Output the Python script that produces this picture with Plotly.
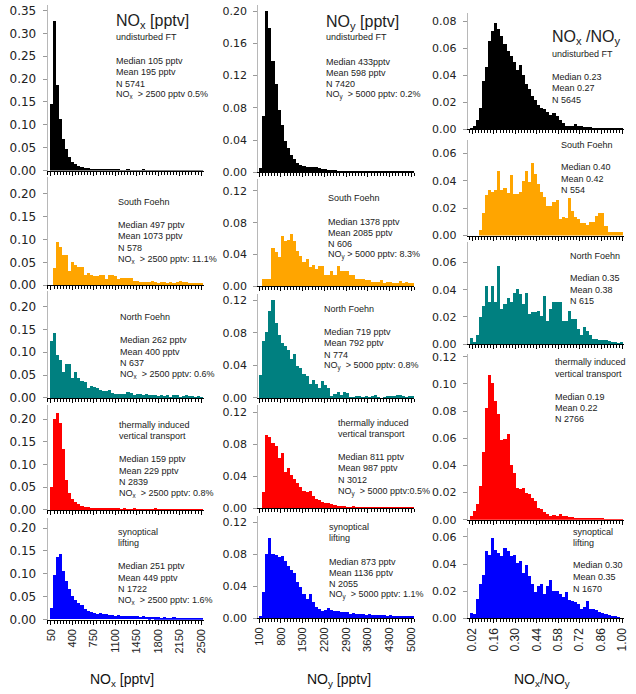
import plotly.graph_objects as go

W, H = 636, 694

# ---------------- data (relative frequencies) ----------------
nox_bins = list(range(50, 2501, 50))                 # NOx bin centres [pptv]
noy_bins = list(range(150, 5051, 100))               # NOy bin centres [pptv]
ratio_bins = [round(0.01 + 0.02 * i, 2) for i in range(50)]  # NOx/NOy bin centres

nox_ft = [0.145, 0.327, 0.187, 0.1135, 0.068, 0.047, 0.029, 0.019, 0.014, 0.009,
          0.007, 0.006, 0.005, 0.004, 0.004, 0.003, 0.003, 0.002, 0.003, 0.002,
          0.002, 0.002, 0.002, 0.001, 0.001, 0.002, 0.001, 0.001, 0.001, 0.001,
          0.002, 0.001, 0.001, 0.001, 0.001, 0.001, 0.001, 0.001, 0.0005, 0.001,
          0.0005, 0.0005, 0.0005, 0.0005, 0.0005, 0.0005, 0.0005, 0.0005, 0.0005, 0.0005]
nox_sf = [0.0, 0.036, 0.094, 0.083, 0.066, 0.065, 0.031, 0.049, 0.044, 0.039,
          0.038, 0.022, 0.026, 0.021, 0.018, 0.018, 0.021, 0.022, 0.0136, 0.021,
          0.021, 0.019, 0.0136, 0.015, 0.014, 0.014, 0.015, 0.008, 0.008, 0.0064,
          0.006, 0.007, 0.005, 0.0086, 0.005, 0.0043, 0.006, 0.005, 0.004, 0.005,
          0.004, 0.006, 0.008, 0.006, 0.005, 0.003, 0.003, 0.0025, 0.002, 0.002]
nox_nf = [0.124, 0.142, 0.095, 0.084, 0.057, 0.074, 0.074, 0.044, 0.058, 0.044,
          0.037, 0.036, 0.022, 0.026, 0.024, 0.022, 0.017, 0.015, 0.015, 0.017,
          0.012, 0.008, 0.01, 0.008, 0.01, 0.014, 0.012, 0.007, 0.01, 0.008,
          0.006, 0.008, 0.007, 0.006, 0.007, 0.005, 0.006, 0.004, 0.006, 0.003,
          0.007, 0.006, 0.003, 0.005, 0.006, 0.004, 0.005, 0.003, 0.004, 0.002]
nox_th = [0.051, 0.2, 0.214, 0.192, 0.133, 0.066, 0.038, 0.024, 0.017, 0.013,
          0.009, 0.007, 0.006, 0.004, 0.004, 0.003, 0.003, 0.002, 0.003, 0.003,
          0.002, 0.002, 0.002, 0.001, 0.002, 0.001, 0.001, 0.002, 0.001, 0.001,
          0.001, 0.001, 0.001, 0.001, 0.002, 0.001, 0.001, 0.001, 0.001, 0.001,
          0.001, 0.0005, 0.0005, 0.001, 0.0005, 0.0005, 0.0005, 0.0005, 0.0005, 0.0005]
nox_sl = [0.024, 0.096, 0.136, 0.142, 0.105, 0.084, 0.066, 0.05, 0.042, 0.035,
          0.03, 0.023, 0.018, 0.016, 0.014, 0.012, 0.0135, 0.011, 0.012, 0.009,
          0.01, 0.008, 0.009, 0.007, 0.008, 0.006, 0.007, 0.006, 0.006, 0.005,
          0.006, 0.005, 0.004, 0.005, 0.004, 0.004, 0.003, 0.004, 0.003, 0.003,
          0.004, 0.003, 0.003, 0.003, 0.002, 0.003, 0.003, 0.002, 0.002, 0.003]

noy_ft = [0.005, 0.07, 0.2, 0.179, 0.138, 0.11, 0.077, 0.059, 0.039, 0.03,
          0.022, 0.016, 0.012, 0.009, 0.008, 0.007, 0.007, 0.007, 0.006, 0.005,
          0.004, 0.004, 0.003, 0.003, 0.003, 0.002, 0.002, 0.002, 0.002, 0.0015,
          0.0015, 0.0015, 0.001, 0.001, 0.001, 0.001, 0.001, 0.001, 0.001, 0.001,
          0.0008, 0.0008, 0.0008, 0.0008, 0.0008, 0.0008, 0.0008, 0.0008, 0.0008, 0.0008]
noy_sf = [0.0, 0.008, 0.008, 0.008, 0.048, 0.042, 0.036, 0.063, 0.057, 0.058,
          0.065, 0.056, 0.044, 0.037, 0.030, 0.034, 0.024, 0.026, 0.021, 0.025,
          0.025, 0.013, 0.013, 0.019, 0.013, 0.025, 0.019, 0.019, 0.018, 0.014,
          0.013, 0.009, 0.009, 0.008, 0.007, 0.007, 0.005, 0.005, 0.005, 0.007,
          0.003, 0.005, 0.005, 0.004, 0.004, 0.006, 0.003, 0.005, 0.003, 0.003]
noy_nf = [0.029, 0.07, 0.082, 0.107, 0.121, 0.093, 0.078, 0.0675, 0.064, 0.059,
          0.048, 0.054, 0.04, 0.037, 0.03, 0.027, 0.018, 0.022, 0.018, 0.012,
          0.021, 0.016, 0.012, 0.003, 0.005, 0.007, 0.004, 0.007, 0.006, 0.002,
          0.002, 0.003, 0.003, 0.002, 0.003, 0.002, 0.003, 0.004, 0.002, 0.0,
          0.002, 0.003, 0.003, 0.003, 0.004, 0.004, 0.003, 0.002, 0.003, 0.003]
noy_th = [0.0, 0.0196, 0.091, 0.089, 0.081, 0.077, 0.062, 0.069, 0.045, 0.05,
          0.041, 0.036, 0.032, 0.026, 0.022, 0.0196, 0.021, 0.0155, 0.011, 0.01,
          0.008, 0.007, 0.006, 0.005, 0.004, 0.003, 0.003, 0.003, 0.002, 0.002,
          0.003, 0.002, 0.002, 0.002, 0.002, 0.001, 0.002, 0.001, 0.001, 0.002,
          0.001, 0.001, 0.001, 0.001, 0.001, 0.001, 0.001, 0.001, 0.001, 0.001]
noy_sl = [0.002, 0.032, 0.079, 0.099, 0.08, 0.078, 0.076, 0.077, 0.071, 0.065,
          0.06, 0.056, 0.044, 0.038, 0.03, 0.023, 0.03, 0.019, 0.013, 0.011,
          0.008, 0.010, 0.0115, 0.01, 0.008, 0.008, 0.007, 0.007, 0.0066, 0.005,
          0.0055, 0.004, 0.0045, 0.004, 0.0033, 0.004, 0.003, 0.0035, 0.003, 0.0033,
          0.003, 0.0025, 0.003, 0.0025, 0.002, 0.0025, 0.002, 0.002, 0.0016, 0.0016]

rat_ft = [0.001, 0.003, 0.007, 0.016, 0.036, 0.0465, 0.0655, 0.073, 0.079, 0.074,
          0.069, 0.063, 0.058, 0.054, 0.05, 0.044, 0.048, 0.04, 0.034, 0.03,
          0.025, 0.022, 0.018, 0.016, 0.015, 0.013, 0.011, 0.012, 0.0097, 0.0073,
          0.005, 0.003, 0.003, 0.003, 0.004, 0.003, 0.003, 0.002, 0.0017, 0.0017,
          0.0012, 0.0007, 0.0007, 0.0005, 0.0005, 0.0005, 0.0005, 0.0005, 0.0005, 0.0005]
rat_sf = [0.0, 0.0, 0.0, 0.0043, 0.0168, 0.0295, 0.033, 0.032, 0.0336, 0.0475,
          0.0336, 0.035, 0.031, 0.044, 0.0307, 0.0307, 0.032, 0.040, 0.0475, 0.039,
          0.053, 0.045, 0.038, 0.032, 0.028, 0.022, 0.022, 0.0247, 0.026, 0.012,
          0.0134, 0.0127, 0.0278, 0.018, 0.0134, 0.012, 0.009, 0.009, 0.0079, 0.0096,
          0.0096, 0.0144, 0.0168, 0.0168, 0.0067, 0.0024, 0.0024, 0.0024, 0.0024, 0.0024]
rat_nf = [0.0048, 0.002, 0.0067, 0.02, 0.028, 0.043, 0.031, 0.043, 0.031, 0.0575,
          0.026, 0.0296, 0.0346, 0.031, 0.038, 0.041, 0.037, 0.03, 0.038, 0.0224,
          0.0236, 0.0236, 0.0248, 0.021, 0.036, 0.0176, 0.026, 0.031, 0.031, 0.031,
          0.0176, 0.0176, 0.0248, 0.0188, 0.0188, 0.0116, 0.0067, 0.0128, 0.0096, 0.0067,
          0.0039, 0.0039, 0.0031, 0.0036, 0.0036, 0.0024, 0.0019, 0.0019, 0.0007, 0.0019]
rat_th = [0.003, 0.0068, 0.0116, 0.0248, 0.050, 0.0826, 0.1067, 0.1007, 0.0875, 0.0778,
          0.0586, 0.0598, 0.0634, 0.0405, 0.0345, 0.0236, 0.0224, 0.0236, 0.02, 0.0188,
          0.016, 0.014, 0.009, 0.008, 0.0055, 0.0043, 0.0027, 0.0036, 0.003, 0.0043,
          0.0027, 0.0025, 0.002, 0.002, 0.0014, 0.0016, 0.0015, 0.0012, 0.0012, 0.0012,
          0.001, 0.001, 0.0007, 0.0007, 0.0005, 0.0005, 0.0005, 0.0005, 0.0005, 0.0005]
rat_sl = [0.004, 0.003, 0.014, 0.025, 0.032, 0.049, 0.0467, 0.0588, 0.050, 0.048,
          0.0455, 0.0515, 0.049, 0.0455, 0.0467, 0.0406, 0.0423, 0.0334, 0.0387, 0.031,
          0.0254, 0.0189, 0.0237, 0.025, 0.0177, 0.0237, 0.0278, 0.02, 0.0196, 0.0177,
          0.0152, 0.0189, 0.0133, 0.0128, 0.0116, 0.0104, 0.0068, 0.008, 0.0123, 0.0068,
          0.0068, 0.0056, 0.0044, 0.0036, 0.0027, 0.0019, 0.0017, 0.0015, 0.0007, 0.0]

row_colors = ["#000000", "#FFA500", "#008080", "#FF0000", "#0000FF"]
col_bins = [nox_bins, noy_bins, ratio_bins]
col_width = [50, 100, 0.02]
col_values = [
    [nox_ft, nox_sf, nox_nf, nox_th, nox_sl],
    [noy_ft, noy_sf, noy_nf, noy_th, noy_sl],
    [rat_ft, rat_sf, rat_nf, rat_th, rat_sl],
]

# tick settings per column
x_tick0 = [50, 100, 0.02]
x_dtick = [350, 700, 0.14]
x_minor0 = [50, 100, 0.0]
y_dtick = [0.05, 0.04, 0.02]

# text blocks: (x px, [(y px, text, size), ...]) per column/row
S = 9
text_blocks = [
    [
        (113, [(18.5, "NO<sub>x</sub> [pptv]", 16), (35, "undisturbed FT", S), (58.5, "Median 105 pptv", S),
               (70.5, "Mean 195 pptv", S), (82, "N 5741", S), (93.3, "NO<sub>x</sub>  > 2500 pptv 0.5%", S)]),
        (115, [(202.3, "South Foehn", S), (225, "Median 497 pptv", S), (236.7, "Mean 1073 pptv", S),
               (248.3, "N 578", S), (260, "NO<sub>x</sub>  > 2500 pptv: 11.1%", S)]),
        (117, [(319, "North Foehn", S), (342.3, "Median 262 pptv", S), (354, "Mean 400 pptv", S),
               (365.3, "N 637", S), (376.7, "NO<sub>x</sub>  > 2500 pptv: 0.6%", S)]),
        (116, [(428.3, "thermally induced", S), (439.5, "vertical transport", S), (462.7, "Median 159 pptv", S),
               (474.5, "Mean 229 pptv", S), (486, "N 2839", S), (497.3, "NO<sub>x</sub>  > 2500 pptv: 0.8%", S)]),
        (115, [(536.7, "synoptical", S), (548.3, "lifting", S), (571.7, "Median 251 pptv", S),
               (583.3, "Mean 449 pptv", S), (595, "N 1722", S), (606.3, "NO<sub>x</sub>  > 2500 pptv: 1.6%", S)]),
    ],
    [
        (326.7, [(20, "NO<sub>y</sub> [pptv]", 16), (35, "undisturbed FT", S), (59.5, "Median 433pptv", S),
                 (70.8, "Mean 598 pptv", S), (82, "N 7420", S), (93.3, "NO<sub>y</sub>  > 5000 pptv: 0.2%", S)]),
        (328.3, [(198.3, "South Foehn", S), (221.7, "Median 1378 pptv", S), (233, "Mean 2085 pptv", S),
                 (244.3, "N 606", S), (255.8, "NO<sub>y</sub> > 5000 pptv: 8.3%", S)]),
        (324.3, [(310.7, "North Foehn", S), (334, "Median 719 pptv", S), (345.3, "Mean 792 pptv", S),
                 (356.7, "N 774", S), (368.3, "NO<sub>y</sub>  > 5000 pptv: 0.8%", S)]),
        (339, [(426, "thermally induced", S), (437.7, "vertical transport", S), (460.5, "Median 811 pptv", S),
               (472.3, "Mean 987 pptv", S), (484, "N 3012", S), (495.7, "NO<sub>y</sub>  > 5000 pptv:0.5%", S)]),
        (330, [(531.7, "synoptical", S), (542.7, "lifting", S), (566.7, "Median 873 pptv", S),
               (578.3, "Mean 1136 pptv", S), (589.5, "N 2055", S), (600.7, "NO<sub>y</sub>  > 5000 pptv: 1.1%", S)]),
    ],
    [
        (556.7, [(35, "NO<sub>x</sub> /NO<sub>y</sub>", 16), (51.7, "undisturbed FT", S), (75, "Median 0.23", S),
                 (86.7, "Mean 0.27", S), (98.3, "N 5645", S)]),
        (565.7, [(144, "South Foehn", S), (166.7, "Median 0.40", S), (178.3, "Mean 0.42", S), (190, "N 554", S)]),
        (575, [(256.7, "North Foehn", S), (279.3, "Median 0.35", S), (291, "Mean 0.38", S), (302.7, "N 615", S)]),
        (559.3, [(364, "thermally induced", S), (376, "vertical transport", S), (399.3, "Median 0.19", S),
                 (410.8, "Mean 0.22", S), (422.3, "N 2766", S)]),
        (577.3, [(536.7, "synoptical", S), (548.3, "lifting", S), (570.7, "Median 0.30", S),
                 (582.5, "Mean 0.35", S), (594.3, "N 1670", S)]),
    ],
]

axis_titles = [(119, "NO<sub>x</sub> [pptv]"), (339.5, "NO<sub>y</sub> [pptv]"), (545.5, "NO<sub>x</sub>/NO<sub>y</sub>")]

# ---------------- layout geometry (pixels) ----------------
col_x = [(43.3, 202.3), (257.3, 416.0), (470.0, 629.3)]
col_range = [(-5, 2548), (68, 5100), (-0.012, 1.013)]
# (pixel of zero, pixels per unit, pixel of axis top)
row_geo = [
    [(170, 464, 2), (286.3, 464, 177), (400.7, 464, 292), (514.3, 460, 408), (625.7, 465, 523)],
    [(171.7, 817, 2), (287.3, 805, 179), (400.7, 825, 295), (512.7, 814, 408), (624, 811, 521)],
    [(128.3, 1375, 10), (236, 1388, 139), (346, 1378, 242), (524.3, 1377.5, 356), (624.3, 1377, 533)],
]
ytick_font = [dict(family="DejaVu Sans", size=12, color="#222"),
              dict(family="DejaVu Sans", size=11, color="#222"),
              dict(family="DejaVu Sans", size=11, color="#222")]
xtick_font = [dict(family="Liberation Sans", size=11, color="#222"),
              dict(family="Liberation Sans", size=11, color="#222"),
              dict(family="Liberation Sans", size=12, color="#222")]
TEXT_DX = -2.5   # annotation padding compensation (px)

fig = go.Figure()
layout = dict(width=W, height=H, margin=dict(l=0, r=0, t=0, b=0), autosize=False,
              paper_bgcolor="white", plot_bgcolor="white", showlegend=False, bargap=0)
annotations = []

n = 0
for c in range(3):
    for r in range(5):
        n += 1
        xa = "x" if n == 1 else f"x{n}"
        ya = "y" if n == 1 else f"y{n}"
        fig.add_trace(go.Bar(x=col_bins[c], y=col_values[c][r], xaxis=xa, yaxis=ya,
                             width=col_width[c], marker=dict(color=row_colors[r], line=dict(width=0)),
                             hoverinfo="skip"))
        zero, scale, top = row_geo[c][r]
        x0, x1 = col_x[c]
        xkey = "xaxis" if n == 1 else f"xaxis{n}"
        ykey = "yaxis" if n == 1 else f"yaxis{n}"
        layout[xkey] = dict(
            domain=[x0 / W, x1 / W], anchor=ya, range=list(col_range[c]),
            showgrid=False, zeroline=False, showline=True, linecolor="#000", linewidth=1,
            ticks="outside", ticklen=4, tickcolor="#000", tickwidth=1,
            tick0=x_tick0[c], dtick=x_dtick[c], tickangle=-90,
            showticklabels=(r == 4), tickfont=xtick_font[c],
            tickformat=".2f" if c == 2 else "d",
            minor=dict(ticks="outside", ticklen=3, tickcolor="#000", tickwidth=1,
                       tick0=x_minor0[c], dtick=col_width[c], showgrid=False),
        )
        layout[ykey] = dict(
            domain=[1 - zero / H, 1 - top / H], anchor=xa, range=[0, (zero - top) / scale],
            showgrid=False, zeroline=False, showline=True, linecolor="#b8b8b8", linewidth=1,
            ticks="outside", ticklen=4, tickcolor="#999", tickwidth=1,
            tick0=0, dtick=y_dtick[c], tickformat=".2f", tickfont=ytick_font[c],
            ticklabelstandoff=4,
        )
        bx, lines = text_blocks[c][r]
        for (py, txt, sz) in lines:
            annotations.append(dict(x=(bx + TEXT_DX) / W, y=1 - py / H, xref="paper", yref="paper",
                                    xanchor="left", yanchor="middle", showarrow=False, text=txt,
                                    font=dict(family="Liberation Sans", size=sz, color="#222")))

for (px, txt) in axis_titles:
    annotations.append(dict(x=px / W, y=1 - 687 / H, xref="paper", yref="paper",
                            xanchor="center", yanchor="middle", showarrow=False, text=txt,
                            font=dict(family="Liberation Sans", size=14, color="#111")))

layout["annotations"] = annotations
fig.update_layout(**layout)
fig.write_html("out.html")
